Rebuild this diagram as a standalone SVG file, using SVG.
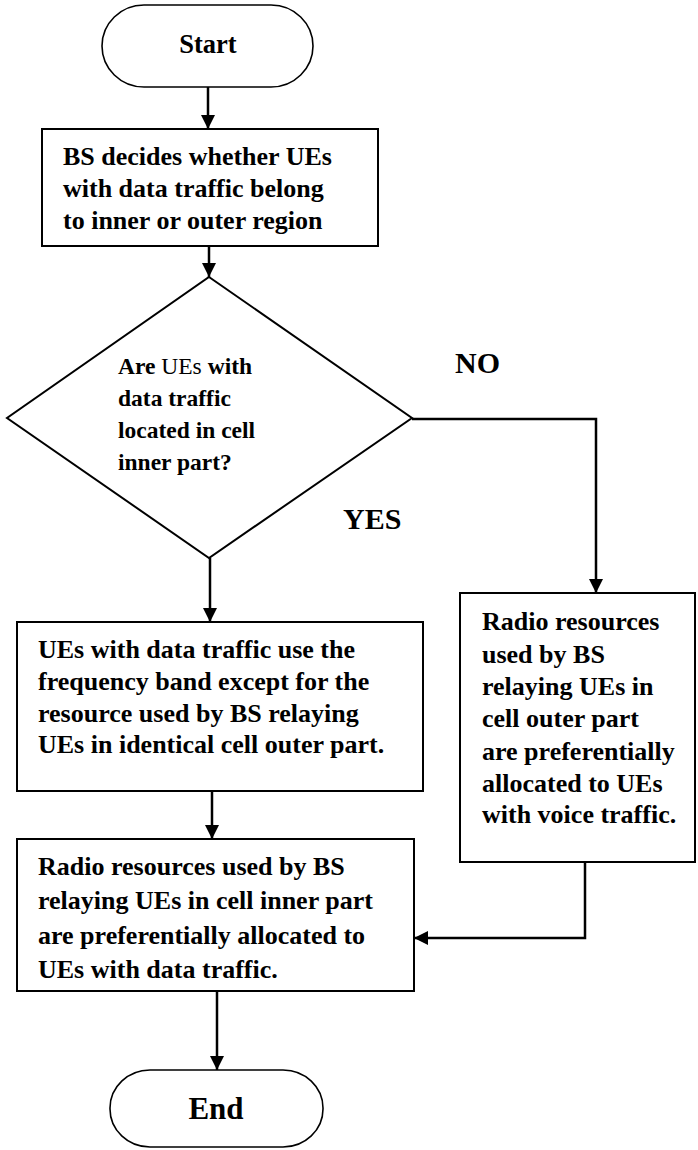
<svg xmlns="http://www.w3.org/2000/svg" width="698" height="1150" viewBox="0 0 698 1150">
<style>
.shape{fill:#fff;stroke:#000;stroke-width:2}
.term{fill:#fff;stroke:#000;stroke-width:1.6}
.t{font-family:"Liberation Serif","Times New Roman",serif;font-weight:bold;fill:#000}
.b{font-size:26px}
.d{font-size:23.5px}
.n{font-weight:normal}
.lbl{font-size:30px}
.conn{fill:none;stroke:#000;stroke-width:2.5}
</style>
<defs>
<marker id="ah" markerUnits="userSpaceOnUse" markerWidth="14" markerHeight="14" viewBox="0 0 14 14" refX="14" refY="7" orient="auto">
<path d="M0,0 L14,7 L0,14 Z" fill="#000"/>
</marker>
</defs>
<g id="connectors">
<line class="conn" x1="208" y1="87" x2="208" y2="129" marker-end="url(#ah)"/>
<line class="conn" x1="209" y1="246" x2="209" y2="277" marker-end="url(#ah)"/>
<line class="conn" x1="210" y1="558" x2="210" y2="622" marker-end="url(#ah)"/>
<polyline class="conn" points="412,419 596,419 596,593" marker-end="url(#ah)"/>
<line class="conn" x1="212" y1="791" x2="212" y2="839" marker-end="url(#ah)"/>
<polyline class="conn" points="585,862 585,938 414,938" marker-end="url(#ah)"/>
<line class="conn" x1="217" y1="991" x2="217" y2="1070" marker-end="url(#ah)"/>
</g>
<g id="start">
<rect class="term" x="102" y="5" width="211" height="82" rx="42" ry="41"/>
<text class="t" x="208" y="53" font-size="26.5" text-anchor="middle">Start</text>
</g>
<g id="decide">
<rect class="shape" x="42" y="129" width="336" height="117"/>
<text class="t b" x="63" y="165">BS decides whether UEs</text>
<text class="t b" x="63" y="197">with data traffic belong</text>
<text class="t b" x="63" y="229">to inner or outer region</text>
</g>
<g id="question">
<polygon class="shape" points="209,277 412,418 209,558 7,418"/>
<text class="t d" x="118" y="374">Are <tspan class="n">UEs</tspan> with</text>
<text class="t d" x="118" y="406">data traffic</text>
<text class="t d" x="118" y="438">located in cell</text>
<text class="t d" x="118" y="470">inner part?</text>
</g>
<g id="label-no">
<text class="t lbl" x="455" y="373">NO</text>
</g>
<g id="label-yes">
<text class="t lbl" x="343" y="529">YES</text>
</g>
<g id="inner-use">
<rect class="shape" x="17" y="622" width="406" height="169"/>
<text class="t b" x="38" y="658">UEs with data traffic use the</text>
<text class="t b" x="38" y="690">frequency band except for the</text>
<text class="t b" x="38" y="722">resource used by BS relaying</text>
<text class="t b" x="38" y="753">UEs in identical cell outer part.</text>
</g>
<g id="outer-alloc">
<rect class="shape" x="460" y="593" width="235" height="269"/>
<text class="t b" x="482" y="630">Radio resources</text>
<text class="t b" x="482" y="663">used by BS</text>
<text class="t b" x="482" y="695">relaying UEs in</text>
<text class="t b" x="482" y="727">cell outer part</text>
<text class="t b" x="482" y="760">are preferentially</text>
<text class="t b" x="482" y="792">allocated to UEs</text>
<text class="t b" x="482" y="823">with voice traffic.</text>
</g>
<g id="inner-alloc">
<rect class="shape" x="17" y="839" width="397" height="152"/>
<text class="t b" x="38" y="875">Radio resources used by BS</text>
<text class="t b" x="38" y="909">relaying UEs in cell inner part</text>
<text class="t b" x="38" y="944">are preferentially allocated to</text>
<text class="t b" x="38" y="978">UEs with data traffic.</text>
</g>
<g id="end">
<rect class="term" x="110" y="1070" width="213" height="77" rx="40" ry="38"/>
<text class="t" x="216" y="1119" font-size="31" text-anchor="middle">End</text>
</g>
</svg>
